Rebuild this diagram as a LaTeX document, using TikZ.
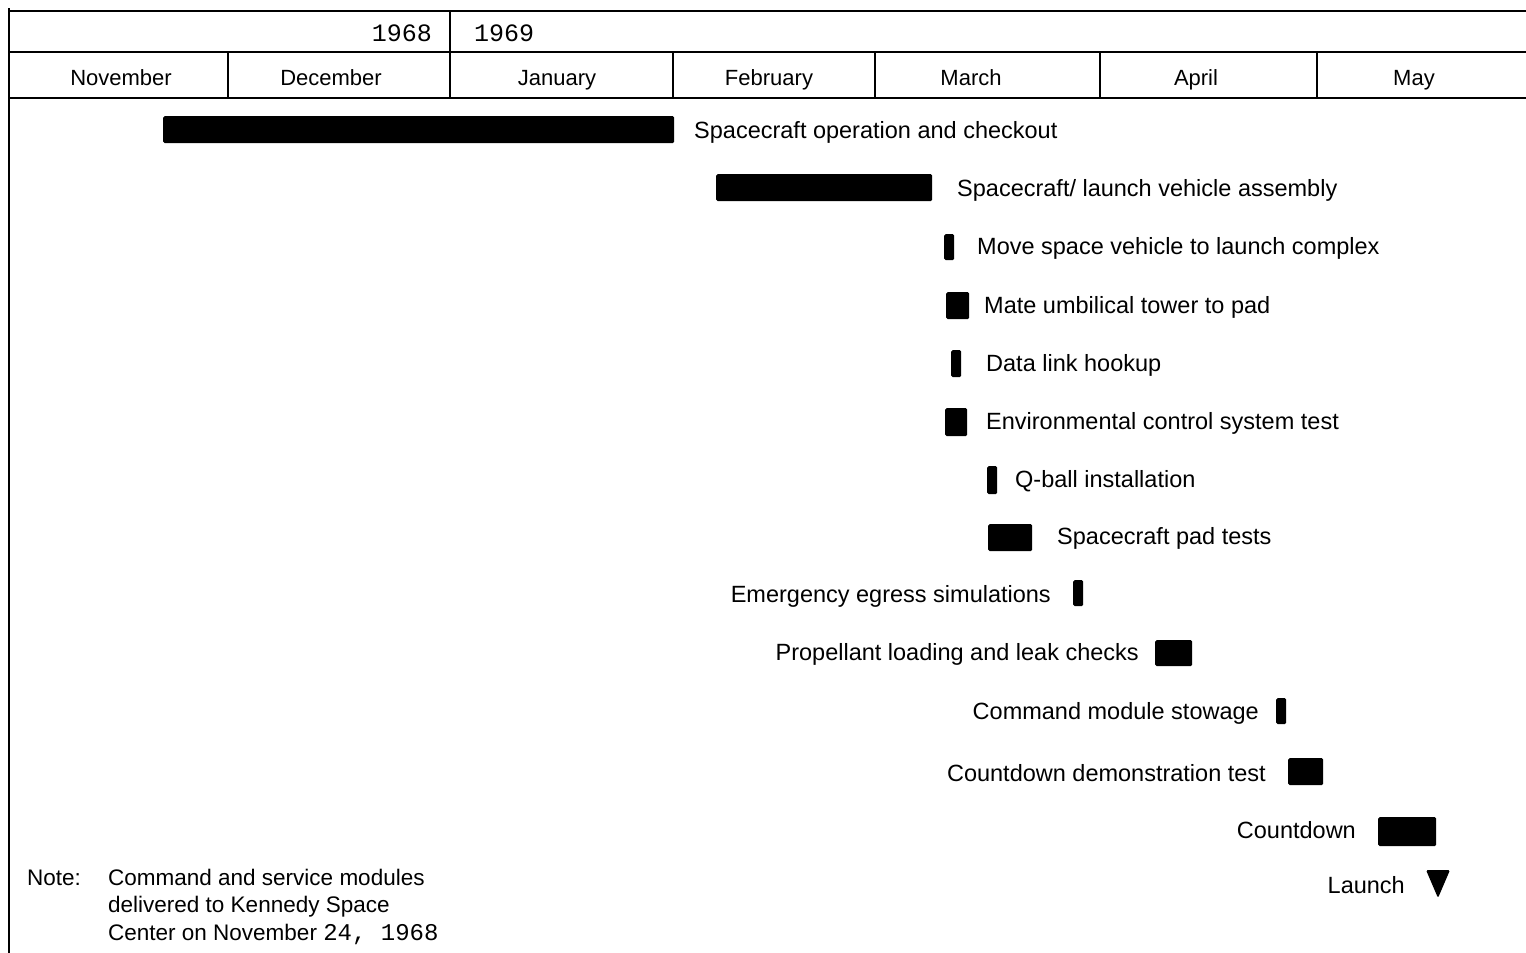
\documentclass[tikz,border=0pt]{standalone}
\usepackage{fontspec}
\setmainfont{Liberation Sans}
\setmonofont{Liberation Mono}
\begin{document}
\begin{tikzpicture}[x=1pt,y=-1pt,
  rule/.style={line width=2.6pt,line cap=butt},
  sep/.style={line width=2pt},
  bar/.style={fill=black,draw=none,rounded corners=1.5pt,inner sep=0pt,anchor=north west},
  lbl/.style={inner sep=0pt,font=\fontsize{23.5}{27}\selectfont},
  month/.style={inner sep=0pt,anchor=base,font=\fontsize{22}{26}\selectfont},
  year/.style={inner sep=0pt,font=\ttfamily\fontsize{25}{28}\selectfont},
  note/.style={inner sep=0pt,anchor=base west,font=\fontsize{22.5}{27}\selectfont}]
\useasboundingbox (0,0) rectangle (1526,953);
% frame of the header
\draw[sep] (9,8) -- (9,953);
\draw[rule] (9,11) -- (1526,11);
\draw[rule] (9,52) -- (1526,52);
\draw[rule] (9,98) -- (1526,98);
\draw[sep] (450,11) -- (450,98);
\foreach \x in {228,673,875,1100,1317} \draw[sep] (\x,52) -- (\x,98);
% years
\node[year,anchor=base east] (y68) at (432,41) {1968};
\node[year,anchor=base west] (y69) at (474,41) {1969};
% months
\node[month] (m1) at (121,85) {November};
\node[month] (m2) at (331,85) {December};
\node[month] (m3) at (557,85) {January};
\node[month] (m4) at (769,85) {February};
\node[month] (m5) at (971,85) {March};
\node[month] (m6) at (1196,85) {April};
\node[month] (m7) at (1414,85) {May};
% bars
\node[bar,minimum width=511pt,minimum height=27pt] (b1) at (163,116) {};
\node[bar,minimum width=216pt,minimum height=27pt] (b2) at (716,174) {};
\node[bar,minimum width=10pt,minimum height=26pt] (b3) at (944,234) {};
\node[bar,minimum width=23pt,minimum height=27pt] (b4) at (946,292) {};
\node[bar,minimum width=10pt,minimum height=27pt] (b5) at (951,350) {};
\node[bar,minimum width=22pt,minimum height=28pt] (b6) at (945,408) {};
\node[bar,minimum width=10pt,minimum height=28pt] (b7) at (987,466) {};
\node[bar,minimum width=44pt,minimum height=27pt] (b8) at (988,524) {};
\node[bar,minimum width=10pt,minimum height=26pt] (b9) at (1073,580) {};
\node[bar,minimum width=37pt,minimum height=26pt] (b10) at (1155,640) {};
\node[bar,minimum width=10pt,minimum height=26pt] (b11) at (1276,698) {};
\node[bar,minimum width=35pt,minimum height=27pt] (b12) at (1288,758) {};
\node[bar,minimum width=58pt,minimum height=29pt] (b13) at (1378,817) {};
\coordinate (b14) at (1438,884);
\fill[rounded corners=1.5pt] (1426,870) -- (1450,870) -- (1438,898) -- cycle;
% labels
\node[lbl,anchor=base west] (l1) at (694,138) {Spacecraft operation and checkout};
\node[lbl,anchor=base west] (l2) at (957,196) {Spacecraft/ launch vehicle assembly};
\node[lbl,anchor=base west] (l3) at (977,254) {Move space vehicle to launch complex};
\node[lbl,anchor=base west] (l4) at (984,313) {Mate umbilical tower to pad};
\node[lbl,anchor=base west] (l5) at (986,371) {Data link hookup};
\node[lbl,anchor=base west] (l6) at (986,429) {Environmental control system test};
\node[lbl,anchor=base west] (l7) at (1015,487) {Q-ball installation};
\node[lbl,anchor=base west] (l8) at (1057,544) {Spacecraft pad tests};
\node[lbl,anchor=base east] (l9) at (1051,602) {Emergency egress simulations};
\node[lbl,anchor=base east] (l10) at (1139,660) {Propellant loading and leak checks};
\node[lbl,anchor=base east] (l11) at (1259,719) {Command module stowage};
\node[lbl,anchor=base east] (l12) at (1266,781) {Countdown demonstration test};
\node[lbl,anchor=base east] (l13) at (1356,838) {Countdown};
\node[lbl,anchor=base east] (l14) at (1405,893) {Launch};
% note
\node[note] (n0) at (27,885) {Note:};
\node[note] (n1) at (108,885) {Command and service modules};
\node[note] (n2) at (108,912) {delivered to Kennedy Space};
\node[note] (n3) at (108,940) {Center on November {\ttfamily\fontsize{24}{27}\selectfont 24, 1968}};
\end{tikzpicture}
\end{document}
